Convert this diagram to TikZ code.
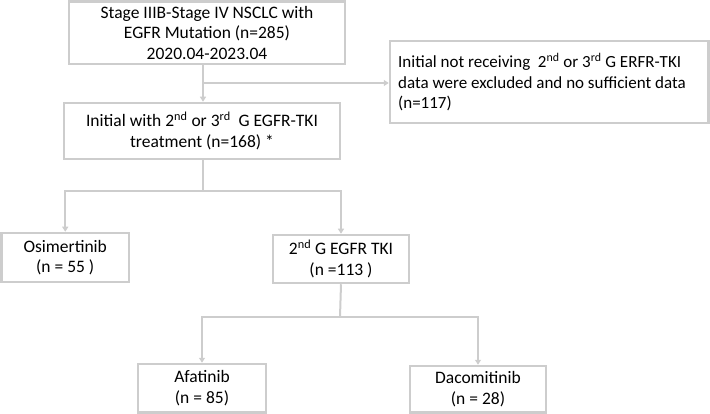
\documentclass[tikz,border=0pt]{standalone}
\usepackage{fontspec}
\setmainfont{Carlito}
\usetikzlibrary{arrows.meta}
\definecolor{bx}{RGB}{205,205,205}
\tikzset{
 box/.style={draw=bx,line width=2.5pt,inner sep=0pt,align=center,font=\fontsize{17.5}{20.5}\selectfont},
 con/.style={draw=bx,line width=2pt},
 arr/.style={con,-{Triangle[length=5pt,width=6pt]}}
}
\newcommand{\bx}[6]{\node[box,minimum width=#3-#2 pt,minimum height=#5-#4 pt] (#1) at ({(#2+#3)/2 pt},{-(#4+#5)/2 pt}) {#6};}
\begin{document}
\begin{tikzpicture}[x=1pt,y=1pt]
\useasboundingbox (0,0) rectangle (710,-414);
\bx{a}{69}{345}{1.5}{64}{Stage IIIB-Stage IV NSCLC with\\EGFR Mutation (n=285)\\2020.04-2023.04}
\bx{e}{390}{708.5}{41}{123}{}
\node[align=left,inner sep=0pt,anchor=west,font=\fontsize{17}{20.5}\selectfont] (et) at (398,-82) {Initial not receiving\ \ 2\textsuperscript{nd} or 3\textsuperscript{rd} G ERFR-TKI\\data were excluded and no sufficient data\\(n=117)};
\bx{b}{64}{340}{103}{159}{Initial with 2\textsuperscript{nd} or 3\textsuperscript{rd}\ \ G EGFR-TKI\\treatment (n=168) *}
\bx{o}{1.5}{129}{233}{282}{Osimertinib\\(n = 55 )}
\bx{g}{273}{409}{235}{283}{2\textsuperscript{nd} G EGFR TKI\\(n =113 )}
\bx{f}{138}{266}{364}{412.5}{Afatinib\\(n = 85)}
\bx{d}{410}{546}{366}{412.5}{Dacomitinib\\(n = 28)}
\coordinate (j1) at (203,-83);
\draw[arr] (a.south -| j1) -- (b.north -| j1);
\draw[arr] (j1) -- (e.west |- j1);
\coordinate (j2) at (203,-191);
\draw[con] (b.south -| j2) -- (j2);
\draw[arr] (j2) -| (o.north);
\draw[arr] (j2) -| (g.north);
\coordinate (j3) at (340,-317);
\draw[con] (g.south) -- (j3);
\draw[arr] (j3) -| (f.north);
\draw[arr] (j3) -| (d.north);
\end{tikzpicture}
\end{document}
